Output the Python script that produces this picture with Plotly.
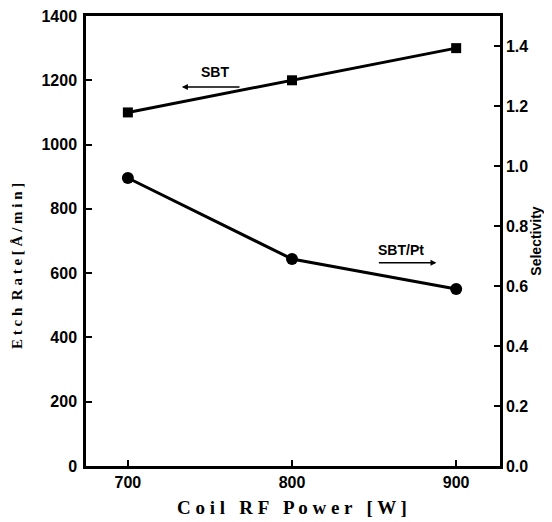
import plotly.graph_objects as go

power = [700, 800, 900]
sbt_etch_rate = [1100, 1200, 1300]
selectivity = [0.96, 0.69, 0.59]

x_ticks = [700, 800, 900]
y_ticks = [0, 200, 400, 600, 800, 1000, 1200, 1400]
y2_ticks = [0.0, 0.2, 0.4, 0.6, 0.8, 1.0, 1.2, 1.4]

fig = go.Figure()
fig.add_trace(go.Scatter(
    x=power, y=sbt_etch_rate, mode="lines+markers",
    line=dict(color="black", width=3),
    marker=dict(symbol="square", size=10, color="black"),
    showlegend=False))
fig.add_trace(go.Scatter(
    x=power, y=selectivity, mode="lines+markers", yaxis="y2",
    line=dict(color="black", width=3),
    marker=dict(symbol="circle", size=12, color="black"),
    showlegend=False))

tick_font = dict(family="Liberation Sans", size=16, color="black", weight="bold")

fig.update_layout(
    width=544, height=514,
    margin=dict(l=78, r=52, t=8, b=56, autoexpand=False),
    paper_bgcolor="white", plot_bgcolor="white",
    xaxis=dict(
        range=[674.5, 926.7], tickvals=x_ticks, ticks="inside", ticklen=6,
        tickwidth=2, tickcolor="black", showline=True, linewidth=2.5,
        linecolor="black", mirror=True, showgrid=False, zeroline=False,
        tickfont=tick_font, automargin=False, ticklabeloverflow="allow"),
    yaxis=dict(
        range=[0, 1400], tickvals=y_ticks, ticks="inside", ticklen=6,
        tickwidth=2, tickcolor="black", showline=True, linewidth=2.5,
        linecolor="black", showgrid=False, zeroline=False, tickfont=tick_font,
        automargin=False, ticklabeloverflow="allow", ticklabelstandoff=3),
    yaxis2=dict(
        range=[0, 1.5], tickvals=y2_ticks, tickformat=".1f", overlaying="y",
        side="right", ticks="inside", ticklen=6, tickwidth=2,
        tickcolor="black", showline=True, linewidth=2.5, linecolor="black",
        showgrid=False, zeroline=False, tickfont=tick_font, automargin=False,
        ticklabeloverflow="allow",
        title=dict(text="<b>Selectivity</b>", standoff=0,
                   font=dict(family="Liberation Sans Narrow, Liberation Sans",
                             size=14, color="black"))),
)

# axis titles
fig.add_annotation(x=0.4975, y=-0.0933, xref="paper", yref="paper",
                   text="<b>C o i l   R F   P o w e r   [ W ]</b>",
                   showarrow=False, xanchor="center", yanchor="middle",
                   font=dict(family="Liberation Serif", size=19, color="black"))
fig.add_annotation(x=-0.165, y=0.444, xref="paper", yref="paper",
                   text="<b>E t c h  R a t e [ Å / m i n ]</b>", textangle=-90,
                   showarrow=False, xanchor="center", yanchor="middle",
                   font=dict(family="Liberation Serif", size=15, color="black"))

# series labels with arrows
fig.add_annotation(x=732.9, y=1179, ax=768.9, ay=1179, xref="x", yref="y",
                   axref="x", ayref="y", text="", showarrow=True,
                   arrowhead=2, arrowsize=0.8, arrowwidth=1.5, arrowcolor="black")
fig.add_annotation(x=753, y=1226, xref="x", yref="y", text="<b>SBT</b>",
                   showarrow=False,
                   font=dict(family="Liberation Sans", size=14, color="black"))
fig.add_annotation(x=888, y=632, ax=852, ay=632, xref="x", yref="y",
                   axref="x", ayref="y", text="", showarrow=True,
                   arrowhead=2, arrowsize=0.8, arrowwidth=1.5, arrowcolor="black")
fig.add_annotation(x=866.5, y=672, xref="x", yref="y", text="<b>SBT/Pt</b>",
                   showarrow=False,
                   font=dict(family="Liberation Sans", size=14, color="black"))

fig.write_html("out.html")
